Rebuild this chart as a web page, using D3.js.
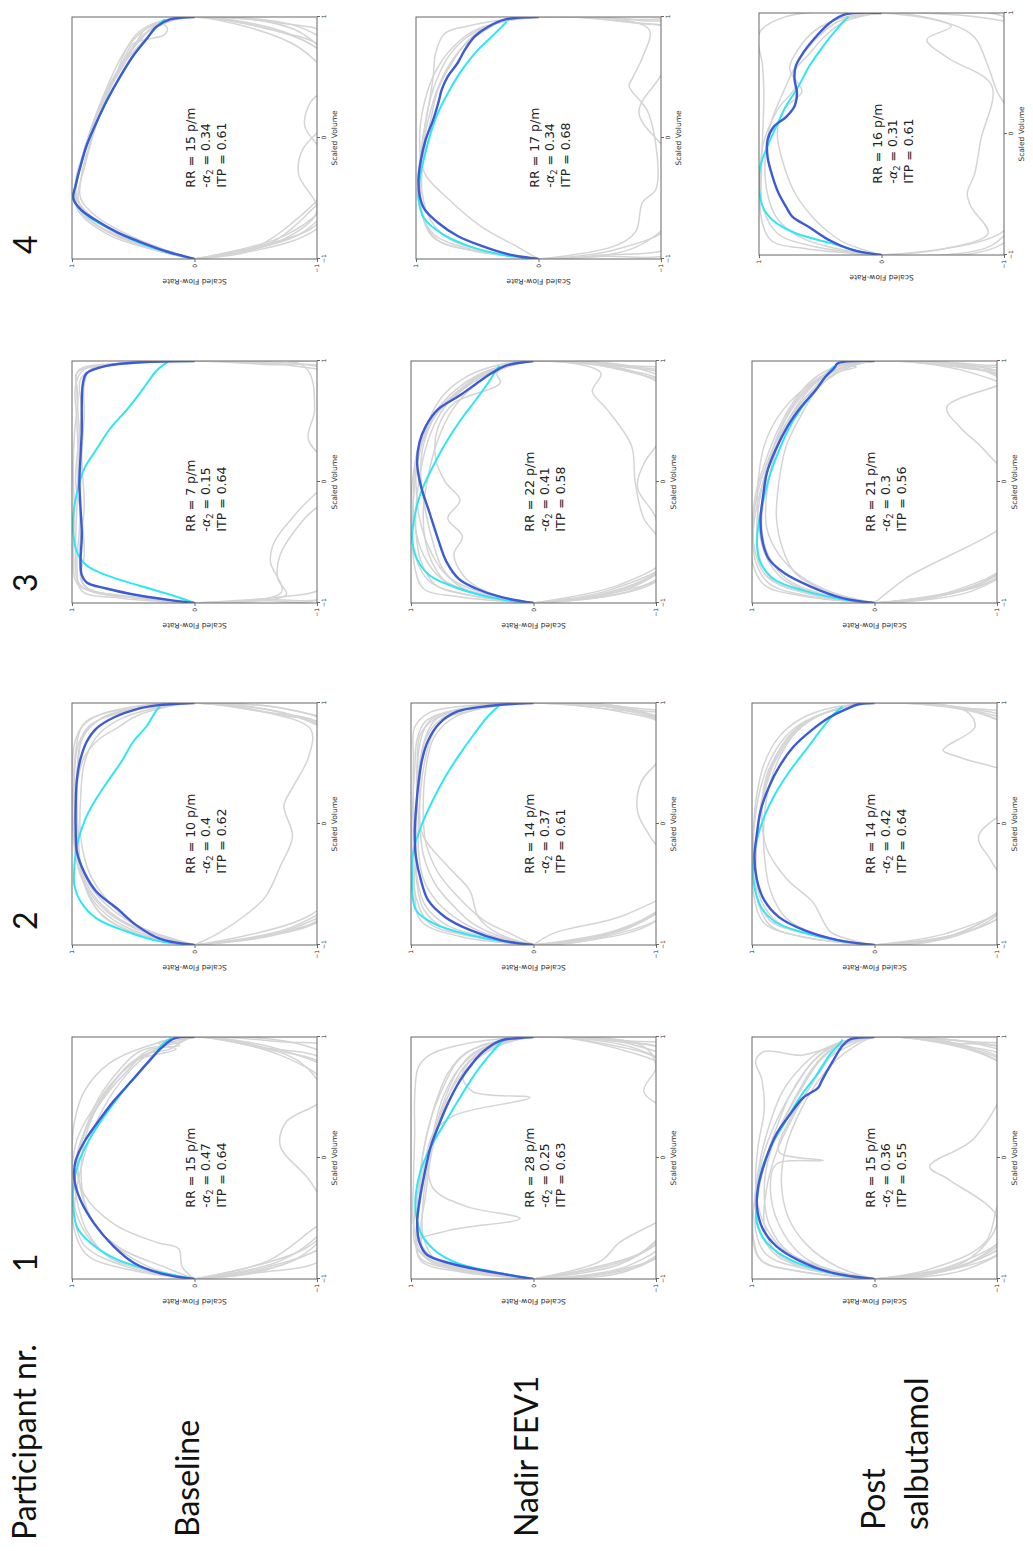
<!DOCTYPE html>
<html>
<head>
<meta charset="utf-8">
<script src="https://cdn.jsdelivr.net/npm/d3@7"></script>
<style>
  body { margin: 0; background: #fff; }
  svg { display: block; }
</style>
</head>
<body>
<svg id="canvas"></svg>
<script>
// the figure is drawn in its original landscape layout and then turned 90 deg
const W = 1033, H = 1551;

const participants = ["1", "2", "3", "4"];
const conditions = ["Baseline", "Nadir FEV1", "Post salbutamol"];

// annotations per condition, participant 1..4
const rrBaseline = [15, 10, 7, 15];
const rrNadir = [28, 14, 22, 17];
const rrPost = [15, 14, 21, 16];
const alphaBaseline = ["0.47", "0.4", "0.15", "0.34"];
const alphaNadir = ["0.25", "0.37", "0.41", "0.34"];
const alphaPost = ["0.36", "0.42", "0.3", "0.31"];
const itpBaseline = ["0.64", "0.62", "0.64", "0.61"];
const itpNadir = ["0.63", "0.61", "0.58", "0.68"];
const itpPost = ["0.55", "0.64", "0.56", "0.61"];

const ticks = [-1, 0, 1];

// mean expiratory curve (blue), [scaled volume, scaled flow]
const meanBaseline = [
  [[-1,0],[-0.956,0.27],[-0.87,0.49],[-0.73,0.66],[-0.54,0.82],[-0.35,0.93],[-0.18,0.98],[-0.02,0.97],[0.15,0.89],[0.31,0.78],[0.47,0.66],[0.64,0.51],[0.79,0.38],[0.91,0.27],[0.99,0.16],[1,0]],
  [[-1,0],[-0.95,0.28],[-0.84,0.47],[-0.7,0.63],[-0.56,0.8],[-0.4,0.9],[-0.23,0.96],[-0.04,0.97],[0.15,0.97],[0.37,0.96],[0.54,0.93],[0.68,0.88],[0.79,0.8],[0.88,0.66],[0.95,0.47],[0.98,0.31],[1,0]],
  [[-1,0],[-0.98,0.17],[-0.94,0.44],[-0.88,0.72],[-0.83,0.88],[-0.77,0.92],[-0.66,0.93],[-0.44,0.92],[-0.22,0.93],[0,0.94],[0.22,0.93],[0.44,0.92],[0.66,0.92],[0.82,0.91],[0.9,0.88],[0.96,0.72],[0.99,0.44],[1,0]],
  [[-1,0],[-0.94,0.22],[-0.86,0.44],[-0.78,0.63],[-0.67,0.82],[-0.59,0.93],[-0.5,0.99],[-0.39,0.97],[-0.23,0.93],[-0.06,0.88],[0.13,0.8],[0.32,0.71],[0.52,0.6],[0.68,0.5],[0.82,0.39],[0.92,0.31],[0.98,0.2],[1,0]]
];
const meanNadir = [
  [[-1,0],[-0.93,0.41],[-0.87,0.68],[-0.8,0.87],[-0.7,0.93],[-0.54,0.95],[-0.35,0.93],[-0.13,0.89],[0.09,0.84],[0.28,0.77],[0.47,0.69],[0.64,0.6],[0.78,0.5],[0.88,0.41],[0.97,0.27],[0.99,0.14],[1,0]],
  [[-1,0],[-0.96,0.27],[-0.88,0.51],[-0.77,0.72],[-0.63,0.86],[-0.46,0.92],[-0.27,0.96],[-0.08,0.97],[0.11,0.96],[0.33,0.94],[0.53,0.91],[0.69,0.86],[0.83,0.77],[0.93,0.62],[0.97,0.41],[0.99,0.21],[1,0]],
  [[-1,0],[-0.95,0.27],[-0.88,0.47],[-0.8,0.61],[-0.66,0.71],[-0.47,0.78],[-0.25,0.85],[-0.03,0.92],[0.16,0.95],[0.33,0.93],[0.46,0.88],[0.6,0.78],[0.71,0.61],[0.81,0.47],[0.9,0.34],[0.96,0.23],[1,0]],
  [[-1,0],[-0.96,0.25],[-0.89,0.47],[-0.81,0.66],[-0.7,0.82],[-0.59,0.93],[-0.48,0.97],[-0.34,0.98],[-0.18,0.96],[-0.01,0.92],[0.15,0.86],[0.32,0.81],[0.4,0.79],[0.51,0.74],[0.62,0.66],[0.73,0.6],[0.84,0.52],[0.92,0.41],[0.98,0.27],[1,0]]
];
const meanPost = [
  [[-1,0],[-0.95,0.34],[-0.85,0.61],[-0.73,0.8],[-0.59,0.91],[-0.4,0.96],[-0.24,0.95],[-0.02,0.89],[0.2,0.8],[0.36,0.69],[0.5,0.58],[0.58,0.46],[0.64,0.43],[0.8,0.34],[0.93,0.26],[0.98,0.2],[1,0]],
  [[-1,0],[-0.96,0.3],[-0.88,0.57],[-0.77,0.78],[-0.63,0.9],[-0.46,0.96],[-0.27,0.98],[-0.08,0.96],[0.11,0.93],[0.31,0.86],[0.47,0.78],[0.64,0.66],[0.77,0.52],[0.88,0.37],[0.95,0.23],[0.99,0.13],[1,0]],
  [[-1,0],[-0.96,0.26],[-0.86,0.53],[-0.75,0.74],[-0.64,0.86],[-0.51,0.91],[-0.31,0.93],[-0.12,0.91],[0.07,0.88],[0.26,0.81],[0.46,0.71],[0.62,0.6],[0.76,0.48],[0.87,0.4],[0.94,0.33],[0.98,0.3],[1,0]],
  [[-1,0],[-0.96,0.23],[-0.88,0.42],[-0.77,0.59],[-0.68,0.73],[-0.6,0.78],[-0.49,0.84],[-0.35,0.89],[-0.19,0.93],[-0.05,0.93],[0.06,0.88],[0.14,0.78],[0.23,0.71],[0.34,0.69],[0.45,0.71],[0.56,0.7],[0.67,0.64],[0.81,0.53],[0.92,0.42],[0.99,0.29],[1,0]]
];

// model fit (cyan)
const fitBaseline = [
  [[-1,0],[-0.94,0.3],[-0.84,0.63],[-0.7,0.85],[-0.57,0.96],[-0.4,0.99],[-0.24,0.99],[-0.05,0.95],[0.15,0.86],[0.34,0.74],[0.53,0.6],[0.69,0.47],[0.84,0.34],[0.95,0.25],[0.99,0.19]],
  [[-1,0],[-0.97,0.28],[-0.89,0.55],[-0.78,0.8],[-0.64,0.93],[-0.51,0.98],[-0.34,0.98],[-0.18,0.96],[0.02,0.9],[0.18,0.82],[0.35,0.71],[0.51,0.6],[0.68,0.5],[0.81,0.39],[0.94,0.31],[0.97,0.28]],
  [[-1,0],[-0.94,0.17],[-0.86,0.44],[-0.77,0.72],[-0.69,0.88],[-0.58,0.96],[-0.42,0.99],[-0.28,0.99],[-0.09,0.96],[0.11,0.9],[0.27,0.8],[0.44,0.69],[0.6,0.55],[0.77,0.42],[0.92,0.31],[0.99,0.22]],
  [[-1,0],[-0.95,0.2],[-0.87,0.44],[-0.76,0.67],[-0.66,0.85],[-0.57,0.95],[-0.49,0.99],[-0.39,0.97],[-0.23,0.93],[-0.06,0.88],[0.13,0.8],[0.32,0.71],[0.52,0.6],[0.68,0.5],[0.82,0.39],[0.92,0.31],[0.98,0.24]]
];
const fitNadir = [
  [[-1,0],[-0.94,0.33],[-0.87,0.62],[-0.76,0.81],[-0.62,0.92],[-0.46,0.96],[-0.29,0.96],[-0.1,0.92],[0.09,0.84],[0.28,0.73],[0.5,0.6],[0.72,0.46],[0.86,0.35],[0.97,0.25],[0.99,0.22]],
  [[-1,0],[-0.97,0.24],[-0.92,0.51],[-0.82,0.82],[-0.71,0.96],[-0.55,0.99],[-0.38,0.99],[-0.22,0.98],[0,0.91],[0.2,0.82],[0.39,0.72],[0.58,0.6],[0.75,0.48],[0.88,0.38],[0.97,0.29],[0.99,0.27]],
  [[-1,0],[-0.97,0.27],[-0.88,0.61],[-0.77,0.85],[-0.64,0.95],[-0.47,0.99],[-0.28,0.97],[-0.09,0.92],[0.11,0.83],[0.3,0.73],[0.49,0.61],[0.68,0.47],[0.82,0.37],[0.93,0.3],[0.96,0.28]],
  [[-1,0],[-0.97,0.27],[-0.9,0.55],[-0.79,0.79],[-0.67,0.93],[-0.51,0.98],[-0.34,0.97],[-0.15,0.93],[0.04,0.88],[0.21,0.82],[0.37,0.74],[0.54,0.64],[0.7,0.52],[0.84,0.38],[0.92,0.3],[0.96,0.26]]
];
const fitPost = [
  [[-1,0],[-0.96,0.31],[-0.84,0.69],[-0.7,0.88],[-0.54,0.96],[-0.35,0.96],[-0.13,0.93],[0.09,0.85],[0.28,0.74],[0.5,0.61],[0.69,0.47],[0.86,0.36],[0.95,0.28],[0.98,0.26]],
  [[-1,0],[-0.97,0.26],[-0.9,0.57],[-0.81,0.81],[-0.68,0.93],[-0.52,0.98],[-0.33,0.99],[-0.13,0.96],[0.06,0.9],[0.25,0.81],[0.44,0.69],[0.64,0.54],[0.8,0.42],[0.91,0.33],[0.97,0.26]],
  [[-1,0],[-0.97,0.26],[-0.9,0.57],[-0.81,0.81],[-0.67,0.93],[-0.51,0.96],[-0.31,0.94],[-0.12,0.9],[0.07,0.85],[0.26,0.78],[0.46,0.69],[0.62,0.59],[0.76,0.48],[0.9,0.38],[0.96,0.33]],
  [[-1,0],[-0.97,0.18],[-0.9,0.42],[-0.82,0.7],[-0.71,0.89],[-0.6,0.97],[-0.43,1.0],[-0.27,0.99],[-0.1,0.93],[0.06,0.86],[0.23,0.78],[0.39,0.68],[0.56,0.59],[0.72,0.48],[0.86,0.37],[0.94,0.3],[0.97,0.27]]
];

// individual breaths (grey), full loops, clipped to the panel
const breathsBaseline = [
  [
    [[-1,0],[-0.92,0.4],[-0.75,0.78],[-0.5,0.95],[-0.2,1.0],[0.15,0.96],[0.45,0.8],[0.7,0.6],[0.88,0.35],[1,0],[0.9,-0.6],[0.75,-1.1],[0.3,-1.4],[-0.3,-1.4],[-0.7,-1.1],[-0.9,-0.6],[-1,0]],
    [[-1,0],[-0.9,0.1],[-0.75,0.13],[-0.7,0.3],[-0.55,0.65],[-0.3,0.9],[0,0.96],[0.35,0.84],[0.6,0.68],[0.8,0.5],[0.9,0.35],[0.93,0.12],[0.97,0.2],[1,0],[0.85,-0.7],[0.55,-1.15],[0,-1.3],[-0.45,-1.2],[-0.75,-0.9],[-1,0]],
    [[-1,0],[-0.93,0.5],[-0.8,0.88],[-0.55,0.99],[-0.2,0.98],[0.2,0.9],[0.5,0.78],[0.72,0.62],[0.88,0.45],[0.95,0.15],[1,0],[0.8,-0.85],[0.5,-1.05],[0.3,-0.75],[0.1,-0.7],[-0.2,-0.95],[-0.55,-1.1],[-0.85,-0.8],[-1,0]],
    [[-1,0],[-0.9,0.25],[-0.75,0.6],[-0.55,0.82],[-0.3,0.92],[0,0.95],[0.3,0.86],[0.55,0.7],[0.75,0.52],[0.85,0.42],[0.9,0.2],[0.95,0.12],[1,0],[0.92,-0.5],[0.8,-1.1],[0.4,-1.4],[-0.2,-1.3],[-0.6,-1.05],[-0.85,-0.7],[-1,0]],
    [[-1,0],[-0.94,0.35],[-0.82,0.7],[-0.6,0.88],[-0.35,0.96],[0,1.0],[0.3,0.98],[0.55,0.9],[0.78,0.7],[0.92,0.4],[1,0],[0.88,-0.75],[0.65,-1.2],[0.1,-1.4],[-0.4,-1.2],[-0.6,-0.95],[-0.85,-0.6],[-1,0]],
    [[-1,0],[-0.9,0.55],[-0.72,0.9],[-0.45,0.98],[-0.1,0.93],[0.25,0.82],[0.55,0.66],[0.8,0.45],[0.93,0.25],[1,0],[0.93,-0.9],[0.7,-1.3],[0,-1.5],[-0.55,-1.3],[-0.92,-0.6],[-1,0]],
    [[-1,0],[-0.93,0.3],[-0.8,0.55],[-0.6,0.78],[-0.35,0.9],[0,0.92],[0.3,0.85],[0.6,0.68],[0.8,0.5],[0.9,0.15],[0.95,0.3],[1,0],[0.96,-0.7],[0.88,-1.2],[0.2,-1.4],[-0.8,-1.1],[-0.95,-0.5],[-1,0]]
  ],
  [
    [[-1,0],[-0.92,0.3],[-0.78,0.62],[-0.55,0.85],[-0.25,0.96],[0.1,0.98],[0.4,0.98],[0.65,0.95],[0.82,0.85],[0.92,0.6],[0.97,0.3],[1,0],[0.9,-0.7],[0.8,-1.1],[0.3,-1.4],[-0.4,-1.4],[-0.8,-1.0],[-0.93,-0.6],[-1,0]],
    [[-1,0],[-0.9,0.4],[-0.72,0.72],[-0.45,0.92],[-0.1,0.99],[0.3,0.99],[0.6,0.97],[0.8,0.92],[0.9,0.78],[0.96,0.45],[1,0],[0.92,-0.6],[0.78,-0.95],[0.55,-0.93],[0.3,-0.8],[0.15,-0.73],[-0.1,-0.8],[-0.35,-0.7],[-0.6,-0.58],[-0.75,-0.42],[-0.9,-0.2],[-1,0]],
    [[-1,0],[-0.93,0.25],[-0.82,0.5],[-0.62,0.72],[-0.4,0.86],[-0.1,0.93],[0.2,0.93],[0.5,0.9],[0.72,0.8],[0.86,0.62],[0.95,0.35],[1,0],[0.9,-0.8],[0.7,-1.2],[0.1,-1.45],[-0.5,-1.3],[-0.85,-0.8],[-1,0]],
    [[-1,0],[-0.9,0.5],[-0.7,0.8],[-0.4,0.92],[-0.05,0.95],[0.3,0.96],[0.55,0.9],[0.7,0.78],[0.8,0.62],[0.88,0.5],[0.95,0.3],[1,0],[0.88,-0.85],[0.6,-1.3],[0,-1.5],[-0.6,-1.25],[-0.88,-0.75],[-1,0]],
    [[-1,0],[-0.94,0.2],[-0.85,0.45],[-0.7,0.68],[-0.5,0.86],[-0.2,0.96],[0.15,1.0],[0.45,1.0],[0.7,0.97],[0.85,0.88],[0.95,0.6],[1,0],[0.93,-0.55],[0.82,-1.05],[0.4,-1.35],[-0.3,-1.35],[-0.75,-0.95],[-1,0]],
    [[-1,0],[-0.93,0.35],[-0.8,0.65],[-0.6,0.85],[-0.3,0.95],[0.05,0.97],[0.4,0.96],[0.7,0.92],[0.88,0.75],[0.96,0.4],[1,0],[0.95,-0.75],[0.82,-1.1],[0.2,-1.4],[-0.7,-1.15],[-0.9,-0.7],[-1,0]],
    [[-1,0],[-0.91,0.45],[-0.76,0.75],[-0.5,0.9],[-0.2,0.95],[0.15,0.96],[0.5,0.95],[0.75,0.9],[0.9,0.7],[0.97,0.35],[1,0],[0.94,-0.8],[0.78,-1.2],[0,-1.45],[-0.75,-1.1],[-0.94,-0.5],[-1,0]]
  ],
  [
    [[-1,0],[-0.95,0.5],[-0.88,0.9],[-0.8,0.96],[-0.5,0.97],[-0.2,0.96],[0.2,0.95],[0.5,0.96],[0.8,0.97],[0.93,0.9],[0.98,0.5],[1,0],[0.97,-0.6],[0.93,-1.1],[0.5,-1.4],[-0.3,-1.4],[-0.85,-1.1],[-0.96,-0.6],[-1,0]],
    [[-1,0],[-0.96,0.45],[-0.9,0.85],[-0.8,0.93],[-0.6,0.9],[-0.3,0.92],[0,0.97],[0.3,0.95],[0.6,0.92],[0.85,0.93],[0.95,0.75],[1,0],[0.96,-0.8],[0.85,-1.2],[0.3,-1.3],[-0.27,-0.82],[-0.5,-0.65],[-0.66,-0.62],[-0.91,-0.71],[-1,0]],
    [[-1,0],[-0.94,0.6],[-0.85,0.95],[-0.6,0.99],[-0.3,0.98],[0.1,0.99],[0.4,0.98],[0.7,0.95],[0.9,0.96],[0.97,0.7],[1,0],[0.95,-0.9],[0.6,-0.98],[0.35,-0.93],[0,-1.2],[-0.3,-0.9],[-0.6,-0.7],[-0.8,-0.68],[-0.93,-0.75],[-1,0]],
    [[-1,0],[-0.97,0.3],[-0.92,0.75],[-0.85,0.9],[-0.6,0.94],[-0.2,0.9],[0.2,0.92],[0.55,0.9],[0.8,0.9],[0.93,0.85],[0.99,0.4],[1,0],[0.98,-0.6],[0.95,-1.2],[0.2,-1.5],[-0.9,-1.2],[-0.97,-0.5],[-1,0]],
    [[-1,0],[-0.96,0.6],[-0.9,0.92],[-0.7,0.96],[-0.4,0.94],[0,0.93],[0.4,0.94],[0.75,0.96],[0.92,0.95],[0.98,0.6],[1,0],[0.97,-0.9],[0.85,-1.3],[0,-1.5],[-0.93,-1.1],[-0.98,-0.5],[-1,0]]
  ],
  [
    [[-1,0],[-0.92,0.35],[-0.8,0.7],[-0.6,0.95],[-0.45,0.98],[-0.2,0.92],[0.1,0.83],[0.4,0.7],[0.65,0.55],[0.82,0.4],[0.92,0.3],[1,0],[0.85,-0.8],[0.6,-1.15],[0.1,-1.35],[-0.4,-1.1],[-0.7,-0.8],[-0.9,-0.5],[-1,0]],
    [[-1,0],[-0.93,0.3],[-0.8,0.62],[-0.62,0.88],[-0.48,0.97],[-0.3,0.95],[0,0.87],[0.3,0.76],[0.6,0.6],[0.78,0.5],[0.85,0.25],[0.9,0.22],[0.95,0.25],[1,0],[0.9,-0.6],[0.75,-1.05],[0.4,-1.3],[-0.1,-0.88],[-0.3,-0.85],[-0.6,-1.0],[-0.85,-0.7],[-1,0]],
    [[-1,0],[-0.94,0.25],[-0.84,0.55],[-0.68,0.85],[-0.5,0.95],[-0.25,0.9],[0.05,0.82],[0.35,0.72],[0.6,0.58],[0.78,0.48],[0.9,0.4],[0.97,0.2],[1,0],[0.95,-0.7],[0.85,-1.1],[0.3,-1.4],[-0.3,-1.2],[-0.6,-0.95],[-0.88,-0.6],[-1,0]],
    [[-1,0],[-0.9,0.4],[-0.75,0.75],[-0.55,0.96],[-0.35,0.96],[-0.1,0.9],[0.2,0.8],[0.5,0.68],[0.7,0.58],[0.86,0.45],[0.95,0.3],[1,0],[0.75,-0.85],[0.45,-1.1],[0.3,-0.95],[0.1,-0.9],[-0.2,-1.1],[-0.5,-1.1],[-0.8,-0.75],[-1,0]],
    [[-1,0],[-0.93,0.22],[-0.82,0.5],[-0.65,0.8],[-0.5,0.93],[-0.3,0.92],[0,0.84],[0.3,0.73],[0.55,0.63],[0.75,0.55],[0.88,0.45],[0.96,0.3],[1,0],[0.9,-0.9],[0.55,-1.3],[-0.2,-1.4],[-0.75,-1.0],[-0.95,-0.4],[-1,0]],
    [[-1,0],[-0.92,0.3],[-0.8,0.66],[-0.62,0.92],[-0.47,0.98],[-0.25,0.94],[0.05,0.85],[0.35,0.74],[0.6,0.6],[0.8,0.45],[0.92,0.32],[1,0],[0.88,-0.85],[0.5,-1.2],[-0.1,-1.35],[-0.5,-1.15],[-0.8,-0.85],[-1,0]],
    [[-1,0],[-0.93,0.28],[-0.82,0.58],[-0.66,0.83],[-0.52,0.95],[-0.35,0.97],[-0.1,0.9],[0.2,0.8],[0.45,0.68],[0.7,0.54],[0.85,0.42],[0.95,0.28],[1,0],[0.8,-0.9],[0.5,-1.25],[0,-1.4],[-0.45,-1.2],[-0.75,-0.95],[-1,0]]
  ]
];
const breathsNadir = [
  [
    [[-1,0],[-0.93,0.5],[-0.85,0.85],[-0.7,0.96],[-0.6,0.7],[-0.5,0.11],[-0.4,0.55],[-0.25,0.82],[0,0.86],[0.3,0.78],[0.6,0.65],[0.85,0.42],[1,0],[0.9,-0.7],[0.7,-1.15],[0.2,-1.35],[-0.4,-1.2],[-0.8,-0.85],[-1,0]],
    [[-1,0],[-0.9,0.7],[-0.75,0.95],[-0.45,0.97],[-0.1,0.9],[0.2,0.82],[0.35,0.65],[0.5,0.03],[0.55,0.5],[0.7,0.58],[0.88,0.4],[1,0],[0.93,-0.65],[0.8,-1.05],[0.35,-1.4],[-0.3,-1.35],[-0.75,-0.95],[-1,0]],
    [[-1,0],[-0.92,0.6],[-0.8,0.9],[-0.55,0.98],[-0.2,0.98],[0.2,0.97],[0.5,0.97],[0.75,0.94],[0.85,0.85],[0.93,0.62],[1,0],[0.92,-0.9],[0.75,-1.0],[0.55,-0.9],[0.3,-1.2],[-0.3,-1.3],[-0.7,-0.7],[-0.85,-0.55],[-1,0]],
    [[-1,0],[-0.93,0.55],[-0.82,0.88],[-0.6,0.92],[-0.3,0.88],[0,0.84],[0.3,0.77],[0.55,0.68],[0.75,0.57],[0.9,0.4],[1,0],[0.96,-0.7],[0.88,-1.1],[0.3,-1.45],[-0.5,-1.3],[-0.88,-0.9],[-1,0]],
    [[-1,0],[-0.93,0.45],[-0.84,0.8],[-0.65,0.9],[-0.35,0.9],[-0.05,0.86],[0.25,0.8],[0.5,0.72],[0.72,0.62],[0.86,0.5],[0.95,0.3],[1,0],[0.9,-0.85],[0.6,-1.3],[-0.1,-1.4],[-0.65,-1.05],[-0.88,-0.7],[-1,0]],
    [[-1,0],[-0.92,0.65],[-0.82,0.93],[-0.6,0.95],[-0.3,0.93],[0.05,0.9],[0.35,0.83],[0.6,0.73],[0.8,0.62],[0.92,0.45],[1,0],[0.94,-0.8],[0.7,-1.3],[0,-1.5],[-0.55,-1.25],[-0.9,-0.75],[-1,0]],
    [[-1,0],[-0.94,0.6],[-0.85,0.92],[-0.65,0.96],[-0.4,0.93],[-0.1,0.88],[0.2,0.82],[0.5,0.74],[0.75,0.6],[0.9,0.42],[1,0],[0.97,-0.75],[0.9,-1.2],[0.4,-1.5],[-0.45,-1.35],[-0.92,-0.8],[-1,0]],
    [[-1,0],[-0.92,0.5],[-0.83,0.82],[-0.68,0.93],[-0.45,0.95],[-0.15,0.93],[0.15,0.88],[0.45,0.8],[0.7,0.7],[0.87,0.55],[0.96,0.3],[1,0],[0.95,-0.85],[0.8,-1.3],[0.1,-1.5],[-0.7,-1.2],[-0.95,-0.6],[-1,0]]
  ],
  [
    [[-1,0],[-0.9,0.3],[-0.77,0.45],[-0.55,0.52],[-0.35,0.7],[-0.1,0.9],[0.2,0.95],[0.5,0.95],[0.75,0.92],[0.9,0.75],[0.97,0.4],[1,0],[0.93,-0.7],[0.8,-1.1],[0.3,-1.4],[-0.4,-1.3],[-0.75,-0.75],[-0.9,-0.17],[-1,0]],
    [[-1,0],[-0.93,0.5],[-0.82,0.85],[-0.6,0.96],[-0.3,0.99],[0.1,0.99],[0.45,0.97],[0.7,0.95],[0.85,0.88],[0.95,0.6],[1,0],[0.95,-0.6],[0.85,-1.1],[0.4,-1.4],[-0.35,-1.35],[-0.8,-0.9],[-1,0]],
    [[-1,0],[-0.92,0.35],[-0.8,0.6],[-0.65,0.78],[-0.45,0.9],[-0.2,0.94],[0.15,0.93],[0.45,0.9],[0.7,0.84],[0.85,0.75],[0.94,0.5],[1,0],[0.94,-0.75],[0.75,-1.2],[0.35,-0.88],[0.1,-0.85],[-0.1,-0.95],[-0.5,-1.2],[-0.85,-0.8],[-1,0]],
    [[-1,0],[-0.94,0.45],[-0.85,0.75],[-0.7,0.9],[-0.5,0.95],[-0.15,0.97],[0.2,0.98],[0.55,0.98],[0.8,0.97],[0.92,0.85],[0.98,0.5],[1,0],[0.96,-0.8],[0.88,-1.15],[0.2,-1.45],[-0.5,-1.25],[-0.9,-0.65],[-1,0]],
    [[-1,0],[-0.9,0.2],[-0.8,0.4],[-0.62,0.6],[-0.4,0.78],[-0.15,0.88],[0.15,0.9],[0.45,0.88],[0.7,0.82],[0.86,0.68],[0.95,0.45],[1,0],[0.92,-0.9],[0.6,-1.3],[-0.1,-1.45],[-0.6,-1.2],[-0.92,-0.55],[-1,0]],
    [[-1,0],[-0.93,0.6],[-0.8,0.92],[-0.55,0.97],[-0.2,0.96],[0.2,0.95],[0.5,0.93],[0.72,0.88],[0.86,0.8],[0.95,0.55],[1,0],[0.94,-0.85],[0.7,-1.25],[0,-1.5],[-0.7,-1.15],[-0.95,-0.5],[-1,0]],
    [[-1,0],[-0.93,0.4],[-0.84,0.7],[-0.68,0.88],[-0.45,0.95],[-0.1,0.96],[0.3,0.95],[0.65,0.93],[0.85,0.85],[0.95,0.6],[1,0],[0.95,-0.75],[0.85,-1.2],[0.2,-1.5],[-0.5,-1.3],[-0.88,-0.7],[-1,0]],
    [[-1,0],[-0.92,0.3],[-0.82,0.5],[-0.68,0.65],[-0.5,0.8],[-0.25,0.9],[0.1,0.93],[0.45,0.92],[0.7,0.88],[0.87,0.75],[0.96,0.45],[1,0],[0.93,-0.85],[0.7,-1.3],[-0.2,-1.45],[-0.8,-1.0],[-0.97,-0.4],[-1,0]]
  ],
  [
    [[-1,0],[-0.93,0.55],[-0.82,0.85],[-0.6,0.97],[-0.3,1.0],[0,0.99],[0.3,0.93],[0.55,0.8],[0.75,0.6],[0.88,0.4],[1,0],[0.92,-0.8],[0.75,-1.2],[0.2,-1.4],[-0.45,-1.3],[-0.85,-0.85],[-1,0]],
    [[-1,0],[-0.92,0.35],[-0.8,0.55],[-0.6,0.65],[-0.45,0.58],[-0.3,0.7],[-0.15,0.6],[0,0.72],[0.2,0.8],[0.45,0.78],[0.65,0.65],[0.82,0.27],[0.9,0.3],[1,0],[0.9,-0.55],[0.75,-0.48],[0.6,-0.6],[0.3,-0.8],[0,-0.83],[-0.3,-0.9],[-0.6,-1.1],[-0.85,-0.7],[-1,0]],
    [[-1,0],[-0.94,0.5],[-0.85,0.8],[-0.65,0.92],[-0.4,0.96],[-0.1,0.95],[0.2,0.9],[0.45,0.82],[0.65,0.7],[0.82,0.5],[0.93,0.3],[1,0],[0.95,-0.75],[0.85,-1.15],[0.3,-1.4],[-0.3,-1.4],[-0.75,-1.0],[-0.95,-0.45],[-1,0]],
    [[-1,0],[-0.92,0.4],[-0.78,0.7],[-0.55,0.85],[-0.3,0.93],[0,0.96],[0.25,0.94],[0.5,0.86],[0.7,0.75],[0.85,0.58],[0.95,0.35],[1,0],[0.88,-0.9],[0.6,-1.3],[0,-1.5],[-0.6,-1.2],[-0.9,-0.6],[-1,0]],
    [[-1,0],[-0.95,0.6],[-0.88,0.9],[-0.7,0.97],[-0.45,0.99],[-0.15,0.98],[0.15,0.95],[0.4,0.88],[0.62,0.75],[0.8,0.55],[0.92,0.35],[1,0],[0.93,-0.7],[0.7,-1.25],[0.15,-0.9],[-0.05,-0.85],[-0.3,-1.0],[-0.7,-1.05],[-0.92,-0.6],[-1,0]],
    [[-1,0],[-0.93,0.45],[-0.84,0.7],[-0.68,0.82],[-0.5,0.88],[-0.25,0.9],[0.05,0.86],[0.35,0.78],[0.6,0.66],[0.8,0.48],[0.92,0.3],[1,0],[0.96,-0.8],[0.9,-1.2],[0.4,-1.45],[-0.5,-1.35],[-0.88,-0.85],[-1,0]],
    [[-1,0],[-0.92,0.45],[-0.8,0.75],[-0.6,0.9],[-0.35,0.97],[-0.05,0.98],[0.25,0.95],[0.5,0.85],[0.72,0.68],[0.87,0.48],[0.96,0.25],[1,0],[0.94,-0.85],[0.7,-1.3],[0,-1.5],[-0.7,-1.2],[-0.93,-0.6],[-1,0]],
    [[-1,0],[-0.94,0.4],[-0.85,0.62],[-0.7,0.75],[-0.5,0.82],[-0.25,0.88],[0.05,0.92],[0.3,0.9],[0.55,0.8],[0.75,0.62],[0.9,0.4],[1,0],[0.96,-0.7],[0.88,-1.15],[0.5,-1.45],[-0.4,-1.4],[-0.85,-0.95],[-1,0]]
  ],
  [
    [[-1,0],[-0.89,0.19],[-0.73,0.47],[-0.5,0.74],[-0.29,0.93],[0,0.97],[0.3,0.93],[0.55,0.84],[0.75,0.7],[0.9,0.5],[1,0],[0.95,-0.8],[0.87,-1.2],[0.3,-1.4],[-0.4,-1.3],[-0.9,-0.8],[-1,0]],
    [[-1,0],[-0.93,0.5],[-0.8,0.85],[-0.6,0.96],[-0.35,0.98],[-0.05,0.95],[0.25,0.9],[0.5,0.86],[0.7,0.84],[0.86,0.77],[0.92,0.6],[1,0],[0.9,-0.9],[0.67,-0.85],[0.5,-0.77],[0.43,-0.74],[0.2,-0.9],[-0.42,-0.96],[-0.53,-0.85],[-0.78,-0.79],[-0.9,-0.6],[-1,0]],
    [[-1,0],[-0.94,0.4],[-0.84,0.72],[-0.68,0.88],[-0.45,0.95],[-0.15,0.94],[0.15,0.88],[0.4,0.82],[0.6,0.72],[0.8,0.58],[0.93,0.4],[1,0],[0.96,-0.7],[0.88,-1.1],[0.54,-1.01],[0.21,-0.82],[-0.2,-1.1],[-0.7,-1.1],[-0.93,-0.6],[-1,0]],
    [[-1,0],[-0.93,0.55],[-0.82,0.86],[-0.62,0.95],[-0.35,0.96],[-0.05,0.94],[0.3,0.86],[0.55,0.76],[0.75,0.62],[0.88,0.45],[0.96,0.3],[1,0],[0.97,-0.85],[0.9,-1.3],[0,-1.5],[-0.85,-1.2],[-0.97,-0.5],[-1,0]],
    [[-1,0],[-0.94,0.45],[-0.86,0.8],[-0.7,0.93],[-0.45,0.97],[-0.15,0.96],[0.15,0.92],[0.4,0.86],[0.65,0.75],[0.82,0.6],[0.93,0.4],[1,0],[0.98,-0.8],[0.93,-1.3],[0.2,-1.5],[-0.9,-1.2],[-0.98,-0.5],[-1,0]]
  ]
];
const breathsPost = [
  [
    [[-1,0],[-0.92,0.55],[-0.8,0.88],[-0.6,0.97],[-0.3,0.95],[0,0.88],[0.3,0.75],[0.55,0.62],[0.75,0.5],[0.9,0.35],[1,0],[0.9,-0.8],[0.7,-1.2],[0.2,-1.4],[-0.4,-1.25],[-0.85,-0.8],[-1,0]],
    [[-1,0],[-0.9,0.45],[-0.75,0.75],[-0.5,0.92],[-0.2,0.97],[0.1,0.95],[0.4,0.9],[0.65,0.92],[0.8,0.97],[0.88,0.9],[0.85,0.6],[0.9,0.4],[1,0],[0.93,-0.7],[0.8,-1.1],[0.17,-0.82],[-0.07,-0.45],[-0.18,-0.61],[-0.5,-1.0],[-0.85,-0.75],[-1,0]],
    [[-1,0],[-0.93,0.35],[-0.8,0.6],[-0.55,0.78],[-0.25,0.85],[-0.05,0.8],[-0.02,0.42],[0.05,0.78],[0.3,0.7],[0.55,0.55],[0.75,0.42],[0.9,0.3],[1,0],[0.95,-0.6],[0.88,-1.1],[0.3,-1.45],[-0.5,-1.3],[-0.9,-0.7],[-1,0]],
    [[-1,0],[-0.92,0.5],[-0.78,0.8],[-0.55,0.9],[-0.25,0.88],[0.05,0.8],[0.35,0.66],[0.6,0.52],[0.8,0.4],[0.92,0.22],[1,0],[0.85,-0.9],[0.55,-1.3],[-0.1,-1.45],[-0.6,-1.15],[-0.9,-0.6],[-1,0]],
    [[-1,0],[-0.94,0.6],[-0.85,0.92],[-0.65,0.99],[-0.35,0.98],[0,0.93],[0.3,0.85],[0.55,0.75],[0.75,0.6],[0.88,0.45],[0.96,0.25],[1,0],[0.96,-0.8],[0.9,-1.2],[0.4,-1.45],[-0.3,-1.4],[-0.7,-1.1],[-0.95,-0.5],[-1,0]],
    [[-1,0],[-0.9,0.3],[-0.72,0.55],[-0.5,0.7],[-0.2,0.76],[0.1,0.72],[0.4,0.6],[0.65,0.45],[0.82,0.3],[0.93,0.15],[1,0],[0.92,-0.75],[0.6,-1.25],[0,-1.5],[-0.3,-1.05],[-0.7,-0.9],[-0.92,-0.45],[-1,0]],
    [[-1,0],[-0.93,0.45],[-0.82,0.78],[-0.62,0.93],[-0.35,0.96],[-0.05,0.9],[0.25,0.8],[0.5,0.7],[0.7,0.58],[0.85,0.45],[0.95,0.3],[1,0],[0.94,-0.85],[0.75,-1.3],[0.1,-1.5],[-0.55,-1.3],[-0.92,-0.75],[-1,0]],
    [[-1,0],[-0.91,0.4],[-0.78,0.7],[-0.55,0.86],[-0.25,0.9],[0.05,0.85],[0.35,0.72],[0.6,0.58],[0.8,0.45],[0.92,0.3],[1,0],[0.9,-0.85],[0.65,-1.3],[0,-1.5],[-0.45,-1.3],[-0.88,-0.75],[-1,0]],
    [[-1,0],[-0.93,0.65],[-0.84,0.93],[-0.62,1.0],[-0.3,0.97],[0.05,0.9],[0.35,0.78],[0.6,0.64],[0.8,0.5],[0.93,0.32],[1,0],[0.96,-0.75],[0.85,-1.2],[0.3,-1.5],[-0.35,-1.35],[-0.8,-1.0],[-1,0]]
  ],
  [
    [[-1,0],[-0.92,0.5],[-0.8,0.85],[-0.6,0.96],[-0.3,0.99],[0,0.98],[0.3,0.93],[0.55,0.84],[0.75,0.7],[0.88,0.5],[1,0],[0.93,-0.75],[0.8,-0.82],[0.61,-0.56],[0.55,-0.7],[0.3,-1.3],[-0.4,-1.3],[-0.85,-0.85],[-1,0]],
    [[-1,0],[-0.9,0.35],[-0.8,0.42],[-0.65,0.5],[-0.45,0.72],[-0.2,0.88],[0.1,0.92],[0.4,0.88],[0.65,0.75],[0.85,0.55],[0.95,0.3],[1,0],[0.9,-0.9],[0.65,-1.3],[0,-1.45],[-0.6,-1.2],[-0.9,-0.6],[-1,0]],
    [[-1,0],[-0.93,0.6],[-0.82,0.9],[-0.62,0.98],[-0.35,1.0],[-0.05,0.99],[0.25,0.96],[0.5,0.9],[0.72,0.78],[0.87,0.6],[0.96,0.35],[1,0],[0.96,-0.7],[0.88,-1.15],[0.4,-1.4],[-0.1,-0.85],[-0.3,-0.95],[-0.6,-1.1],[-0.9,-0.7],[-1,0]],
    [[-1,0],[-0.92,0.45],[-0.78,0.72],[-0.55,0.85],[-0.25,0.9],[0.05,0.9],[0.35,0.85],[0.6,0.75],[0.8,0.6],[0.92,0.4],[1,0],[0.92,-0.85],[0.7,-1.25],[0.1,-1.5],[-0.5,-1.3],[-0.95,-0.55],[-1,0]],
    [[-1,0],[-0.94,0.55],[-0.84,0.85],[-0.65,0.95],[-0.4,0.97],[-0.1,0.96],[0.2,0.92],[0.45,0.85],[0.7,0.72],[0.85,0.55],[0.95,0.3],[1,0],[0.95,-0.8],[0.82,-1.2],[0.25,-1.45],[-0.35,-1.3],[-0.75,-1.05],[-0.93,-0.6],[-1,0]],
    [[-1,0],[-0.93,0.45],[-0.82,0.78],[-0.62,0.93],[-0.35,0.97],[-0.05,0.95],[0.25,0.9],[0.5,0.82],[0.72,0.68],[0.87,0.5],[0.96,0.28],[1,0],[0.93,-0.85],[0.75,-1.25],[0,-1.5],[-0.6,-1.25],[-0.93,-0.65],[-1,0]]
  ],
  [
    [[-1,0],[-0.92,0.55],[-0.78,0.88],[-0.55,0.98],[-0.3,0.99],[0,0.93],[0.3,0.82],[0.55,0.68],[0.75,0.52],[0.9,0.35],[1,0],[0.9,-0.8],[0.7,-1.2],[0.2,-1.4],[-0.45,-1.25],[-0.85,-0.85],[-1,0]],
    [[-1,0],[-0.9,0.4],[-0.75,0.65],[-0.55,0.75],[-0.3,0.8],[0,0.78],[0.3,0.72],[0.55,0.6],[0.75,0.48],[0.9,0.32],[0.95,0.15],[0.97,0.3],[1,0],[0.95,-0.7],[0.85,-1.1],[0.62,-0.59],[0.45,-0.7],[0.26,-0.9],[-0.2,-1.2],[-0.8,-0.25],[-1,0]],
    [[-1,0],[-0.93,0.5],[-0.82,0.82],[-0.62,0.94],[-0.35,0.96],[-0.05,0.92],[0.25,0.84],[0.5,0.74],[0.7,0.62],[0.86,0.45],[0.95,0.3],[1,0],[0.96,-0.8],[0.8,-1.25],[0.1,-1.45],[-0.6,-1.2],[-0.93,-0.55],[-1,0]],
    [[-1,0],[-0.94,0.6],[-0.85,0.9],[-0.65,1.0],[-0.4,1.0],[-0.1,0.97],[0.2,0.88],[0.45,0.78],[0.68,0.65],[0.85,0.5],[0.95,0.32],[1,0],[0.92,-0.9],[0.6,-1.3],[0,-1.5],[-0.7,-1.15],[-0.95,-0.5],[-1,0]],
    [[-1,0],[-0.91,0.35],[-0.78,0.6],[-0.6,0.78],[-0.38,0.88],[-0.1,0.88],[0.2,0.82],[0.45,0.72],[0.65,0.6],[0.82,0.42],[0.93,0.25],[1,0],[0.94,-0.75],[0.85,-1.2],[0.35,-1.45],[-0.3,-1.35],[-0.8,-0.95],[-1,0]],
    [[-1,0],[-0.93,0.45],[-0.8,0.75],[-0.58,0.9],[-0.3,0.95],[0,0.95],[0.3,0.9],[0.55,0.78],[0.75,0.6],[0.88,0.42],[0.96,0.2],[1,0],[0.97,-0.85],[0.9,-1.3],[0.2,-1.5],[-0.5,-1.35],[-0.9,-0.7],[-1,0]],
    [[-1,0],[-0.92,0.45],[-0.8,0.72],[-0.62,0.86],[-0.4,0.92],[-0.1,0.9],[0.2,0.85],[0.45,0.76],[0.68,0.62],[0.85,0.45],[0.95,0.25],[1,0],[0.93,-0.85],[0.75,-1.25],[0,-1.5],[-0.55,-1.3],[-0.9,-0.8],[-1,0]],
    [[-1,0],[-0.94,0.55],[-0.84,0.86],[-0.66,0.97],[-0.42,0.99],[-0.15,0.95],[0.15,0.86],[0.4,0.76],[0.62,0.64],[0.8,0.5],[0.93,0.3],[1,0],[0.96,-0.8],[0.88,-1.25],[0.45,-1.5],[-0.35,-1.4],[-0.82,-0.95],[-1,0]]
  ],
  [
    [[-1,0],[-0.93,0.55],[-0.82,0.85],[-0.6,0.97],[-0.3,0.98],[0,0.97],[0.3,0.96],[0.56,0.97],[0.83,1.0],[0.97,0.78],[1,0],[0.9,-0.59],[0.8,-0.76],[0.56,-0.87],[0.34,-0.95],[0.1,-1.1],[-0.3,-1.2],[-0.8,-1.0],[-1,0]],
    [[-1,0],[-0.9,0.3],[-0.82,0.42],[-0.7,0.55],[-0.5,0.7],[-0.25,0.8],[0,0.85],[0.2,0.8],[0.35,0.65],[0.5,0.72],[0.65,0.6],[0.82,0.45],[0.93,0.3],[1,0],[1,-0.15],[0.89,-0.57],[0.78,-0.37],[0.63,-0.54],[0.4,-0.9],[-0.05,-0.81],[-0.33,-0.76],[-0.49,-0.7],[-0.6,-0.73],[-0.82,-0.87],[-0.95,-0.5],[-1,0]],
    [[-1,0],[-0.94,0.4],[-0.85,0.67],[-0.7,0.85],[-0.5,0.93],[-0.2,0.95],[0.1,0.9],[0.35,0.8],[0.6,0.68],[0.8,0.52],[0.93,0.35],[1,0],[0.97,-1.0],[0.7,-1.3],[0,-1.4],[-0.9,-1.0],[-1,0]],
    [[-1,0],[-0.95,0.6],[-0.88,0.9],[-0.7,0.98],[-0.4,0.99],[-0.1,0.97],[0.2,0.85],[0.4,0.7],[0.55,0.75],[0.7,0.68],[0.85,0.55],[0.95,0.35],[1,0],[0.95,-0.9],[0.85,-1.2],[0.2,-1.3],[-0.5,-1.2],[-0.92,-0.9],[-1,0]]
  ]
];

// layout of the landscape figure (before the turn)
const colX = [272, 606, 948, 1292];
const rowY = [72, 411, 752];
const pw = 242, ph = 245;
const shift = [
  [[0,0],[0,0],[0,0],[0,0]],
  [[0,0],[0,0],[0,0],[0,5]],
  [[0,0],[0,0],[0,0],[4,7]]
];
const numberX = [279, 621, 959, 1297];

const rows = [
  { rr: rrBaseline, alpha: alphaBaseline, itp: itpBaseline, mean: meanBaseline, fit: fitBaseline, breaths: breathsBaseline },
  { rr: rrNadir, alpha: alphaNadir, itp: itpNadir, mean: meanNadir, fit: fitNadir, breaths: breathsNadir },
  { rr: rrPost, alpha: alphaPost, itp: itpPost, mean: meanPost, fit: fitPost, breaths: breathsPost }
];

const svg = d3.select("#canvas").attr("width", W).attr("height", H);
svg.append("rect").attr("width", W).attr("height", H).attr("fill", "#fff");

const fig = svg.append("g").attr("transform", "translate(0," + H + ") rotate(-90)");

const labelFont = "Lato, 'Open Sans', sans-serif";
const plotFont = "'DejaVu Sans', sans-serif";
const labelSize = 32;

// header and row labels
fig.append("text").attr("x", 11).attr("y", 36)
  .attr("font-family", labelFont).attr("font-size", labelSize).attr("fill", "#111")
  .text("Participant nr.");
fig.selectAll(".pnum").data(participants).enter().append("text")
  .attr("class", "pnum")
  .attr("x", (d, i) => numberX[i]).attr("y", 37)
  .attr("font-family", labelFont).attr("font-size", labelSize).attr("fill", "#111")
  .text(d => d);

const rowLabels = [
  { lines: ["Baseline"], x: 14, y: [199] },
  { lines: ["Nadir FEV1"], x: 14, y: [538] },
  { lines: ["Post", "salbutamol"], x: 21, y: [885, 928] }
];
rowLabels.forEach(r => {
  r.lines.forEach((t, k) => {
    fig.append("text").attr("x", r.x).attr("y", r.y[k])
      .attr("font-family", labelFont).attr("font-size", labelSize).attr("fill", "#111")
      .text(t);
  });
});

const line = d3.line().curve(d3.curveCatmullRom.alpha(0.5));

rows.forEach((row, r) => {
  participants.forEach((p, c) => {
    const x0 = colX[c] + shift[r][c][0];
    const y0 = rowY[r] + shift[r][c][1];
    const x = d3.scaleLinear().domain([-1, 1]).range([x0, x0 + pw]);
    const y = d3.scaleLinear().domain([-1, 1]).range([y0 + ph, y0]);
    line.x(d => x(d[0])).y(d => y(d[1]));

    const g = fig.append("g").attr("class", "panel");
    const clipId = "clip-" + r + "-" + c;
    g.append("clipPath").attr("id", clipId)
      .append("rect").attr("x", x0).attr("y", y0).attr("width", pw).attr("height", ph);

    const plot = g.append("g").attr("clip-path", "url(#" + clipId + ")");
    plot.selectAll(".breath").data(row.breaths[c]).enter().append("path")
      .attr("class", "breath")
      .attr("d", line)
      .attr("fill", "none")
      .attr("stroke", "#d4d4d4")
      .attr("stroke-width", 1.5);
    plot.append("path").datum(row.fit[c])
      .attr("d", line)
      .attr("fill", "none").attr("stroke", "#2fe6f2").attr("stroke-width", 2);
    plot.append("path").datum(row.mean[c])
      .attr("d", line)
      .attr("fill", "none").attr("stroke", "#3d5bd6").attr("stroke-width", 2.4);

    // frame and axes
    g.append("rect").attr("x", x0).attr("y", y0).attr("width", pw).attr("height", ph)
      .attr("fill", "none").attr("stroke", "#666").attr("stroke-width", 1);

    const fmt = d3.format("d");
    const ax = g.append("g").attr("transform", "translate(0," + (y0 + ph) + ")")
      .call(d3.axisBottom(x).tickValues(ticks).tickFormat(fmt).tickSize(3).tickPadding(2));
    const ay = g.append("g").attr("transform", "translate(" + x0 + ",0)")
      .call(d3.axisLeft(y).tickValues(ticks).tickFormat(fmt).tickSize(3).tickPadding(2));
    [ax, ay].forEach(a => {
      a.select(".domain").remove();
      a.selectAll("line").attr("stroke", "#666");
      a.selectAll("text").attr("font-family", plotFont).attr("font-size", 6).attr("fill", "#333");
    });

    g.append("text")
      .attr("x", x0 + pw / 2).attr("y", y0 + ph + 20)
      .attr("text-anchor", "middle")
      .attr("font-family", plotFont).attr("font-size", 7.5).attr("fill", "#333")
      .text("Scaled Volume");
    g.append("text")
      .attr("transform", "translate(" + (x0 - 20) + "," + (y0 + ph / 2) + ") rotate(-90)")
      .attr("text-anchor", "middle")
      .attr("font-family", plotFont).attr("font-size", 7.5).attr("fill", "#333")
      .text("Scaled Flow-Rate");

    // annotation
    const tx = x(-0.41), ty = y(0);
    const ann = g.append("g").attr("font-family", plotFont).attr("font-size", 12.5).attr("fill", "#222");
    ann.append("text").attr("x", tx).attr("y", ty).text("RR = " + row.rr[c] + " p/m");
    const a2 = ann.append("text").attr("x", tx).attr("y", ty + 15);
    a2.append("tspan").text("-");
    a2.append("tspan").attr("font-style", "italic").text("α");
    a2.append("tspan").attr("font-size", 8.5).attr("dy", 3).text("2");
    a2.append("tspan").attr("dy", -3).text(" = " + row.alpha[c]);
    ann.append("text").attr("x", tx).attr("y", ty + 31).text("ITP = " + row.itp[c]);
  });
});
</script>
</body>
</html>
